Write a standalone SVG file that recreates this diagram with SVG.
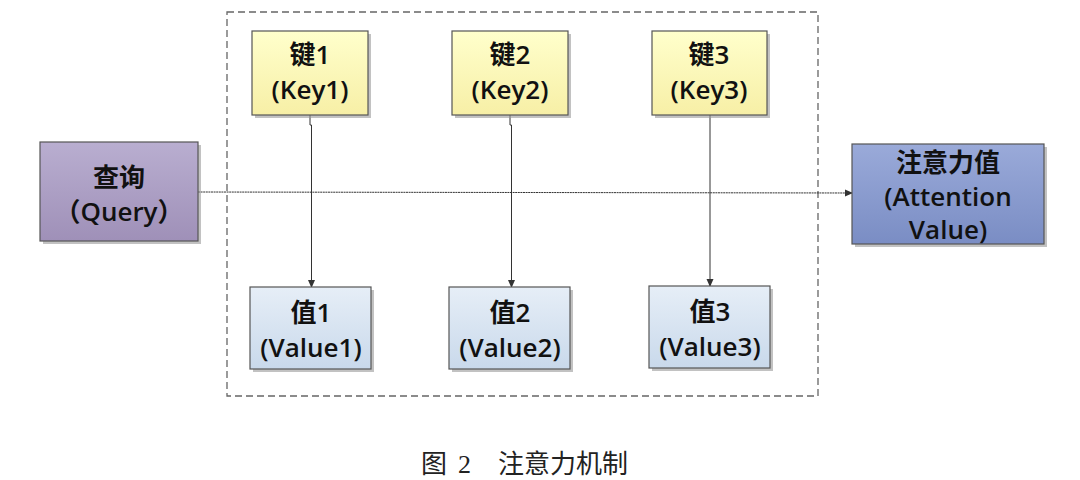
<svg xmlns="http://www.w3.org/2000/svg" width="1080" height="480" viewBox="0 0 1080 480">
<defs>
<linearGradient id="gKey" x1="0" y1="0" x2="0" y2="1"><stop offset="0" stop-color="#FFFFCC"/><stop offset="1" stop-color="#F7EFA6"/></linearGradient>
<linearGradient id="gVal" x1="0" y1="0" x2="0" y2="1"><stop offset="0" stop-color="#E6EEF7"/><stop offset="1" stop-color="#C9D9EB"/></linearGradient>
<linearGradient id="gQ" x1="0" y1="0" x2="0" y2="1"><stop offset="0" stop-color="#B9AED0"/><stop offset="1" stop-color="#9F90B8"/></linearGradient>
<linearGradient id="gA" x1="0" y1="0" x2="0" y2="1"><stop offset="0" stop-color="#9AAAD9"/><stop offset="1" stop-color="#7A8DC4"/></linearGradient>
<marker id="arr" markerWidth="8" markerHeight="8" refX="7" refY="4" orient="auto" markerUnits="userSpaceOnUse"><path d="M0,0.5 L8,4 L0,7.5 Z" fill="#333"/></marker>
</defs>
<style>
.box{stroke:#555;stroke-width:1.2}
.sh{fill:#999;opacity:0.6}
.t{font-family:"Open Sans","Noto Sans CJK SC",sans-serif;font-weight:600;font-size:26px;text-anchor:middle;fill:#111}
.line{stroke:#333;stroke-width:1;fill:none}
.cap{font-family:"Liberation Serif","Noto Sans CJK SC",serif;font-size:26px;fill:#222}
</style>
<rect x="227" y="12" width="591" height="384" fill="none" stroke="#666" stroke-width="1.3" stroke-dasharray="7,4"/>
<g id="connectors">
<path class="line" d="M310,115 V125 H311.5 V287" marker-end="url(#arr)"/>
<path class="line" d="M510,115 V125 H511.5 V287" marker-end="url(#arr)"/>
<path class="line" d="M710,115 V286" marker-end="url(#arr)"/>
<path class="line" d="M198,192 L852,193" stroke-dasharray="2,0.6" marker-end="url(#arr)"/>
</g>
<g id="key1"><rect class="sh" x="255" y="34" width="116" height="84"/><rect class="box" x="252" y="31" width="116" height="84" fill="url(#gKey)"/><text class="t" x="310" y="64">键1</text><text class="t" x="310" y="99">(Key1)</text></g>
<g id="key2"><rect class="sh" x="455" y="34" width="116" height="84"/><rect class="box" x="452" y="31" width="116" height="84" fill="url(#gKey)"/><text class="t" x="510" y="64">键2</text><text class="t" x="510" y="99">(Key2)</text></g>
<g id="key3"><rect class="sh" x="655" y="34" width="115" height="84"/><rect class="box" x="652" y="31" width="115" height="84" fill="url(#gKey)"/><text class="t" x="709" y="64">键3</text><text class="t" x="709" y="99">(Key3)</text></g>
<g id="query"><rect class="sh" x="43" y="145" width="158" height="99"/><rect class="box" x="40" y="142" width="158" height="99" fill="url(#gQ)"/><text class="t" x="119" y="187">查询</text><text class="t" x="119" y="221">（Query）</text></g>
<g id="attention"><rect class="sh" x="855" y="147" width="192" height="100"/><rect class="box" x="852" y="144" width="192" height="100" fill="url(#gA)"/><text class="t" x="948" y="172">注意力值</text><text class="t" x="948" y="206">(Attention</text><text class="t" x="948" y="239">Value)</text></g>
<g id="value1"><rect class="sh" x="253" y="290" width="121" height="82"/><rect class="box" x="250" y="287" width="121" height="82" fill="url(#gVal)"/><text class="t" x="311" y="322">值1</text><text class="t" x="311" y="357">(Value1)</text></g>
<g id="value2"><rect class="sh" x="452" y="290" width="121" height="82"/><rect class="box" x="449" y="287" width="121" height="82" fill="url(#gVal)"/><text class="t" x="510" y="322">值2</text><text class="t" x="510" y="357">(Value2)</text></g>
<g id="value3"><rect class="sh" x="652" y="289" width="121" height="82"/><rect class="box" x="649" y="286" width="121" height="82" fill="url(#gVal)"/><text class="t" x="710" y="321">值3</text><text class="t" x="710" y="356">(Value3)</text></g>
<text class="cap" x="421" y="473">图</text>
<text class="cap" x="458" y="473">2</text>
<text class="cap" x="498" y="473">注意力机制</text>
</svg>
